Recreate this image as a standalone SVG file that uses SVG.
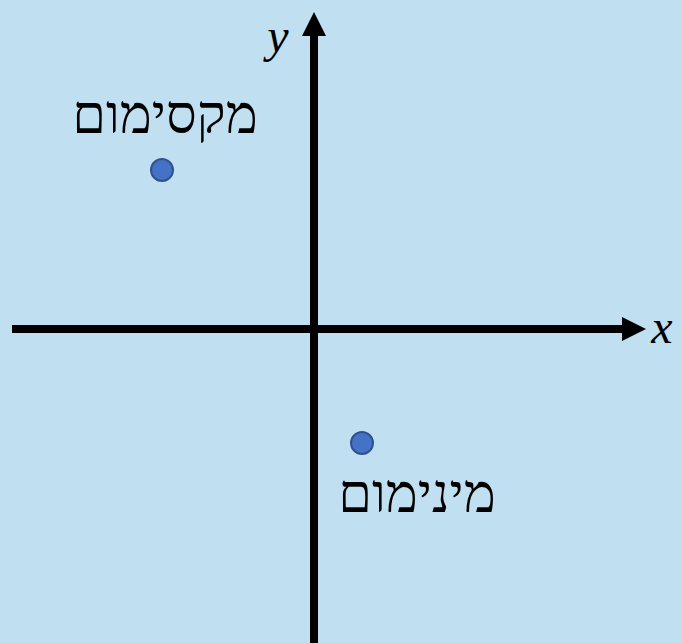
<svg xmlns="http://www.w3.org/2000/svg" width="682" height="643" viewBox="0 0 682 643">
<style>
.axis{stroke:#000;stroke-width:8;fill:none}
.head{fill:#000}
.pt{fill:#4472C4;stroke:#2F528F;stroke-width:2}
.heb{font-family:"Liberation Serif","DejaVu Serif",serif;font-size:54px;fill:#000}
.var{font-family:"Liberation Serif","DejaVu Serif",serif;font-style:italic;font-size:48px;fill:#000}
</style>
<rect x="0" y="0" width="682" height="643" fill="#C0DFF0"/>
<g id="connectors">
<line class="axis" x1="12" y1="329" x2="624" y2="329"/>
<polygon class="head" points="622,317 646,329 622,341"/>
<line class="axis" x1="314" y1="643" x2="314" y2="34"/>
<polygon class="head" points="302,36 314,12 326,36"/>
</g>
<g id="label-y"><text class="var" x="278" y="52" text-anchor="middle">y</text></g>
<g id="label-x"><text class="var" x="662" y="343" text-anchor="middle">x</text></g>
<g id="maximum">
<circle class="pt" cx="162" cy="170" r="11"/>
<text class="heb" x="165" y="133" text-anchor="middle">מקסימום</text>
</g>
<g id="minimum">
<circle class="pt" cx="362" cy="443" r="11"/>
<text class="heb" x="417" y="512" text-anchor="middle">מינימום</text>
</g>
</svg>
